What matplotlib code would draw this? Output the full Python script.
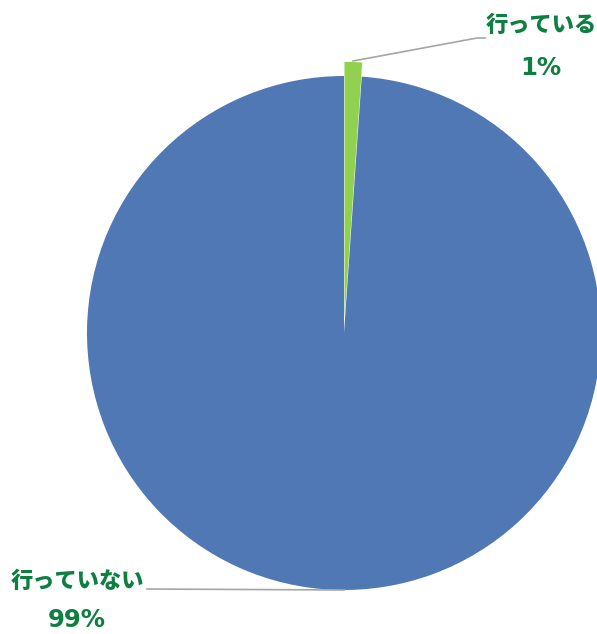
import numpy as np
import matplotlib.pyplot as plt

plt.rcParams['font.family'] = ['Noto Sans CJK JP', 'DejaVu Sans']

labels = ["行っている", "行っていない"]
values = [1.1, 98.9]
pct_labels = ["1%", "99%"]
colors = ["#92D050", "#5078B4"]
text_color = "#0E7F41"

fig = plt.figure(figsize=(5.97, 6.34), dpi=100)
ax = fig.add_axes([0, 0, 1, 1])
r_px = 257.0
cx, cy = 344.0, 333.0

wedges, _ = ax.pie(values, colors=colors, startangle=90, counterclock=False,
                   explode=[0.055, 0], radius=1.0, center=(0, 0),
                   wedgeprops=dict(linewidth=0))
ax.set_aspect("equal")
ax.set_xlim(-cx / r_px, (597 - cx) / r_px)
ax.set_ylim(-(634 - cy) / r_px, cy / r_px)
ax.axis("off")


def px(x, y):
    return ((x - cx) / r_px, (cy - y) / r_px)


# leader lines and labels
ax.plot(*zip(px(353, 61), px(477, 38), px(485, 38)), color="#A6A6A6", lw=1.2)
ax.text(*px(541, 25), labels[0], ha="center", va="center", fontsize=16,
        fontweight="heavy", color=text_color)
ax.text(*px(541, 68), pct_labels[0], ha="center", va="center", fontsize=17.5,
        fontweight="bold", color=text_color, family=["DejaVu Sans"])

ax.plot(*zip(px(147, 589), px(344, 590)), color="#A6A6A6", lw=1.2)
ax.text(*px(77, 581), labels[1], ha="center", va="center", fontsize=16,
        fontweight="heavy", color=text_color)
ax.text(*px(77, 620), pct_labels[1], ha="center", va="center", fontsize=17.5,
        fontweight="bold", color=text_color, family=["DejaVu Sans"])

fig.savefig("out.png", dpi=100)
